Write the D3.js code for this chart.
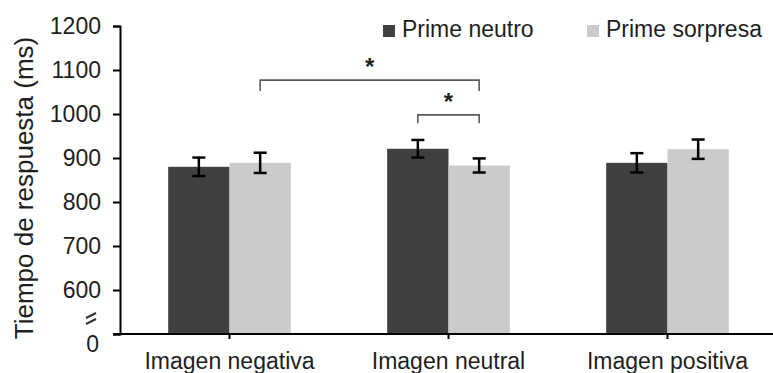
<!DOCTYPE html>
<html>
<head>
<meta charset="utf-8">
<script src="https://cdn.jsdelivr.net/npm/d3@7"></script>
<style>
  body { margin: 0; background: #fff; }
  svg text { font-family: "Liberation Sans", Arial, sans-serif; }
</style>
</head>
<body>
<svg id="chart" width="773" height="373"></svg>
<script>
// data
var categories = ["Imagen negativa", "Imagen neutral", "Imagen positiva"];
var seriesNames = ["Prime neutro", "Prime sorpresa"];
var neutroValues = [880, 921, 889];
var sorpresaValues = [889, 883, 920];
var neutroErrors = [21, 20, 22];
var sorpresaErrors = [23, 16, 22];
var yTickValues = [500, 600, 700, 800, 900, 1000, 1100, 1200];
var yTickLabels = ["0", "600", "700", "800", "900", "1000", "1100", "1200"];
// significance brackets: [category, series] ends, top value, drop (ms)
var brackets = [
  { from: [0, 1], to: [1, 1], top: 1077, drop: 25, label: "*" },
  { from: [1, 0], to: [1, 1], top: 998, drop: 19, label: "*" }
];

var colors = ["#404040", "#cbcbcb"];
var svg = d3.select("#chart");

var x0 = d3.scaleBand()
  .domain(categories)
  .range([120, 777])
  .paddingInner(0.44)
  .paddingOuter(0.22);

var x1 = d3.scaleBand()
  .domain(seriesNames)
  .range([0, x0.bandwidth()]);

var y = d3.scaleLinear()
  .domain([500, 1200])
  .range([334, 26]);

var rows = categories.map(function(c, i) {
  return [
    { cat: c, s: seriesNames[0], v: neutroValues[i], e: neutroErrors[i], k: 0 },
    { cat: c, s: seriesNames[1], v: sorpresaValues[i], e: sorpresaErrors[i], k: 1 }
  ];
});

// bars
var groups = svg.selectAll("g.grp")
  .data(rows)
  .enter().append("g")
  .attr("class", "grp")
  .attr("transform", function(d) { return "translate(" + x0(d[0].cat) + ",0)"; });

groups.selectAll("rect")
  .data(function(d) { return d; })
  .enter().append("rect")
  .attr("x", function(d) { return x1(d.s); })
  .attr("width", x1.bandwidth())
  .attr("y", function(d) { return y(d.v); })
  .attr("height", function(d) { return y(500) - y(d.v); })
  .style("fill", function(d) { return colors[d.k]; });

// error bars
var capW = 13;
var err = groups.selectAll("g.err")
  .data(function(d) { return d; })
  .enter().append("g")
  .attr("class", "err")
  .attr("transform", function(d) { return "translate(" + (x1(d.s) + x1.bandwidth() / 2) + ",0)"; })
  .style("stroke", "#000")
  .style("stroke-width", 2.5);

err.append("line")
  .attr("x1", 0).attr("x2", 0)
  .attr("y1", function(d) { return y(d.v + d.e); })
  .attr("y2", function(d) { return y(d.v - d.e); });
err.append("line")
  .attr("x1", -capW / 2).attr("x2", capW / 2)
  .attr("y1", function(d) { return y(d.v + d.e); })
  .attr("y2", function(d) { return y(d.v + d.e); });
err.append("line")
  .attr("x1", -capW / 2).attr("x2", capW / 2)
  .attr("y1", function(d) { return y(d.v - d.e); })
  .attr("y2", function(d) { return y(d.v - d.e); });

// y axis
var yAxis = d3.axisLeft(y)
  .tickValues(yTickValues)
  .tickSize(7)
  .tickPadding(12)
  .tickFormat(function(d, i) { return yTickLabels[i]; });

var gy = svg.append("g")
  .attr("transform", "translate(120,0)")
  .call(yAxis);
gy.select(".domain").attr("stroke", "#000").attr("stroke-width", 2);
gy.selectAll(".tick line").attr("stroke", "#000").attr("stroke-width", 2);
gy.selectAll(".tick text")
  .style("font-size", "23px")
  .style("fill", "#1e1e1e");
gy.selectAll(".tick").filter(function(d) { return d === 500; })
  .select("text").attr("dy", "0.78em").attr("x", -21);

// axis break mark
var brk = svg.append("g")
  .attr("transform", "translate(91," + (y(500) - 15) + ")")
  .style("stroke", "#333")
  .style("stroke-width", 2);
brk.append("line").attr("x1", -5).attr("y1", -1).attr("x2", 5).attr("y2", -6);
brk.append("line").attr("x1", -5).attr("y1", 5).attr("x2", 5).attr("y2", 0);

// x axis
var xAxis = d3.axisBottom(x0).tickSize(5).tickSizeOuter(0).tickPadding(14);
var gx = svg.append("g")
  .attr("transform", "translate(0," + y(500) + ")")
  .call(xAxis);
gx.select(".domain").attr("d", "M114,0H777").attr("stroke", "#000").attr("stroke-width", 2);
gx.selectAll(".tick line").attr("stroke", "#000").attr("stroke-width", 2);
gx.selectAll(".tick text")
  .style("font-size", "23px")
  .style("fill", "#1e1e1e");

// y axis title
svg.append("text")
  .attr("transform", "translate(33,188) rotate(-90)")
  .attr("text-anchor", "middle")
  .style("font-size", "26px")
  .style("fill", "#1e1e1e")
  .text("Tiempo de respuesta (ms)");

// significance brackets
function barCenter(p) {
  return x0(categories[p[0]]) + x1(seriesNames[p[1]]) + x1.bandwidth() / 2;
}
var br = svg.selectAll("g.bracket")
  .data(brackets)
  .enter().append("g")
  .attr("class", "bracket");

br.append("path")
  .attr("d", function(d) {
    var xa = barCenter(d.from), xb = barCenter(d.to);
    return "M" + xa + "," + y(d.top - d.drop) + "V" + y(d.top) +
      "H" + xb + "V" + y(d.top - d.drop);
  })
  .style("fill", "none")
  .style("stroke", "#5a5a5a")
  .style("stroke-width", 1.6);

br.append("text")
  .attr("x", function(d) { return (barCenter(d.from) + barCenter(d.to)) / 2; })
  .attr("y", function(d) { return y(d.top) - 5; })
  .attr("text-anchor", "middle")
  .style("font-size", "24px")
  .style("font-weight", "bold")
  .style("fill", "#1e1e1e")
  .text(function(d) { return d.label; });

// legend
var legendX = [383, 587];
var legend = svg.selectAll("g.legend")
  .data(seriesNames)
  .enter().append("g")
  .attr("class", "legend")
  .attr("transform", function(d, i) { return "translate(" + legendX[i] + ",25)"; });

legend.append("rect")
  .attr("width", 12).attr("height", 12)
  .style("fill", function(d, i) { return colors[i]; });

legend.append("text")
  .attr("x", 19)
  .attr("y", 12)
  .style("font-size", "23px")
  .style("fill", "#1e1e1e")
  .text(function(d) { return d; });
</script>
</body>
</html>
